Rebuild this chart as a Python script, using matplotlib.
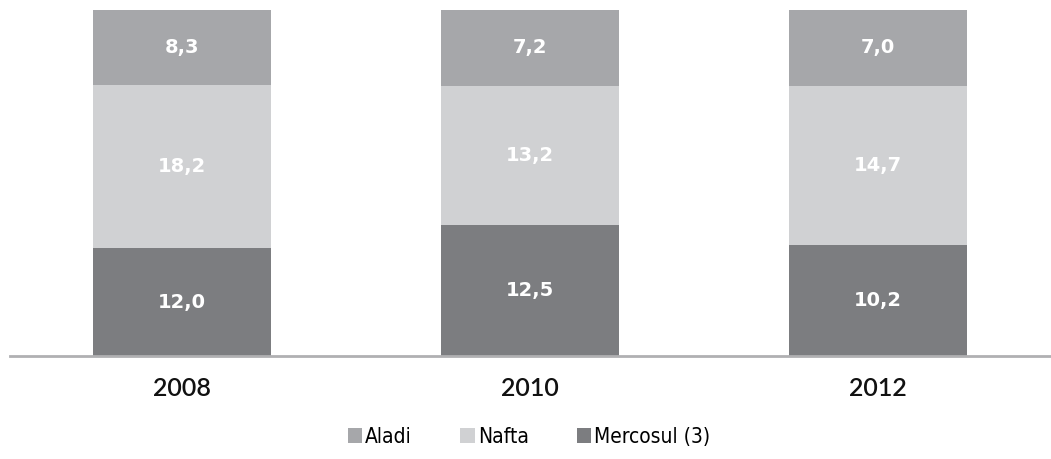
import numpy as np
import matplotlib.pyplot as plt
from matplotlib.font_manager import FontProperties

years = ["2008", "2010", "2012"]
mercosul = [12.0, 12.5, 10.2]
nafta = [18.2, 13.2, 14.7]
aladi = [8.3, 7.2, 7.0]

series = [
    ("Mercosul (3)", mercosul, "#7c7d80"),
    ("Nafta", nafta, "#d0d1d3"),
    ("Aladi", aladi, "#a6a7aa"),
]

fig = plt.figure(figsize=(10.51, 4.59), dpi=100)
ax = fig.add_axes([10 / 1051, 103 / 459, 1041 / 1051, 346 / 459])

x = np.arange(len(years))
totals = np.sum([s[1] for s in series], axis=0)
bottom = np.zeros(len(years))
handles = {}
for name, vals, color in series:
    vals = np.array(vals)
    share = vals / totals * 100
    bars = ax.bar(x, share, width=0.512, bottom=bottom, color=color,
                  edgecolor="none", label=name)
    handles[name] = bars
    for xi, b, h, v in zip(x, bottom, share, vals):
        ax.text(xi, b + h / 2, f"{v:.1f}".replace(".", ","), ha="center",
                va="center", color="white", fontsize=14,
                family="DejaVu Sans", fontweight="bold")
    bottom += share

ax.set_xlim(-0.494, 2.497)
ax.set_ylim(0, 100)
ax.set_yticks([])
ax.set_xticks(x)
ax.set_xticklabels(years, fontsize=18, family=["Lato", "DejaVu Sans"],
                   fontweight="semibold", color="#111111")
ax.tick_params(axis="x", length=0, pad=15)
for side in ["top", "right", "left"]:
    ax.spines[side].set_visible(False)
ax.spines["bottom"].set_color("#b0b0b2")
ax.spines["bottom"].set_linewidth(2)

# condensed face for the legend
leg_font = FontProperties(family="DejaVu Sans", stretch="condensed", size=15)
order = ["Aladi", "Nafta", "Mercosul (3)"]
fig.legend([handles[n] for n in order], order, loc="center",
           bbox_to_anchor=(529 / 1051, 22 / 459), ncol=3, frameon=False,
           prop=leg_font, handlelength=0.7, handleheight=0.7,
           handletextpad=0.15, columnspacing=2.3)

fig.savefig("out.png", dpi=100)
